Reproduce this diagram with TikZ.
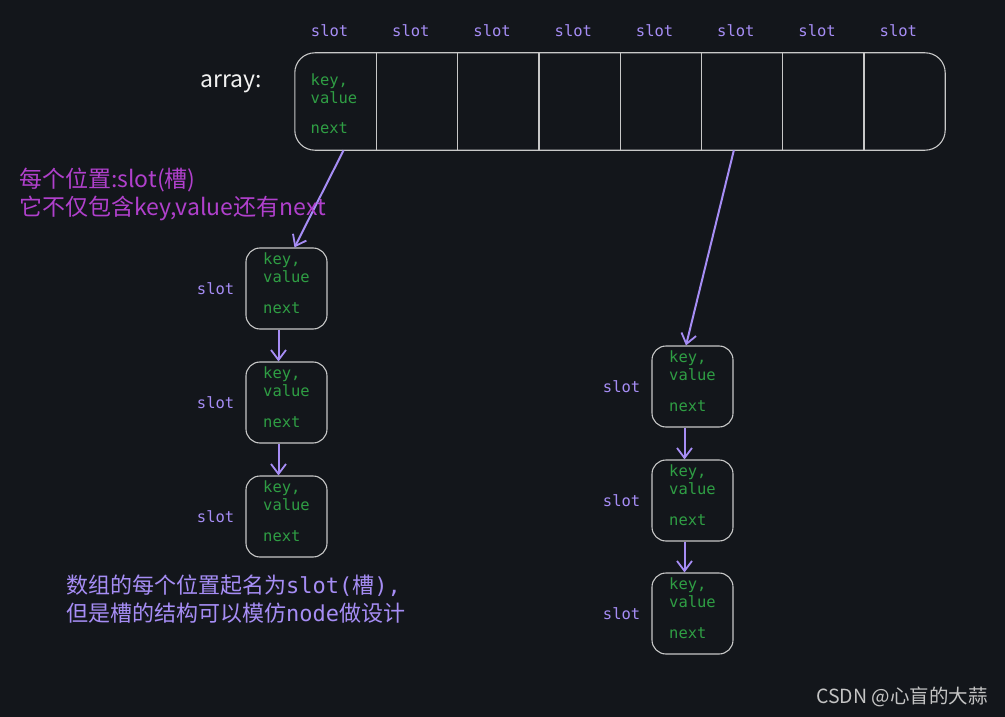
\documentclass[tikz,border=0pt]{standalone}
\usepackage{fontspec}
\setmainfont{DejaVu Sans}
\newfontfamily\cjk{Noto Sans CJK SC}
\newfontfamily\codefont{DejaVu Sans Mono}
\usetikzlibrary{arrows.meta,positioning}
\definecolor{bgdark}{HTML}{13161B}
\definecolor{slotpurple}{HTML}{A68DF5}
\definecolor{fieldgreen}{HTML}{2F9E44}
\definecolor{notemagenta}{HTML}{B040CC}
\definecolor{boxgray}{HTML}{C8C8C8}
\definecolor{markgray}{HTML}{C4C4C4}

\begin{document}
\begin{tikzpicture}[x=1pt,y=-1pt,
  slotlabel/.style={text=slotpurple,inner sep=0pt,font=\codefont\fontsize{15.5}{18}\selectfont},
  fields/.style={text=fieldgreen,align=left,inner sep=0pt,font=\codefont\fontsize{15.5}{18}\selectfont},
  cell/.style={minimum width=81.25pt,minimum height=97pt,inner sep=0pt},
  slotbox/.style={draw=boxgray,line width=1.1pt,rounded corners=14pt,minimum width=81pt,minimum height=81pt,inner sep=0pt},
  link/.style={draw=slotpurple,line width=2pt,-{Straight Barb[length=10pt,width=15pt,line width=1.8pt]}},
  note/.style={anchor=west,align=left,inner sep=0pt,font=\cjk\fontsize{22}{28}\selectfont}]
\fill[bgdark] (0,0) rectangle (1005,717);
\useasboundingbox (0,0) rectangle (1005,717);

% array of slots
\foreach \i in {1,...,8}{
  \node[cell] (c\i) at ({295+81.25*(\i-0.5)},101.5) {};
  \node[slotlabel] (s\i) at ({289+81.25*(\i-0.5)},31) {slot};
}
\draw[boxgray,line width=1.1pt,rounded corners=20pt] (c1.north west) rectangle (c8.south east);
\foreach \i in {1,...,7}
  \draw[boxgray,line width=1.1pt] (c\i.north east) -- (c\i.south east);
\node[fields] (k1) at (334,104) {key,\\value\\[12pt]next};
\node[text=white!90!gray,inner sep=0pt,font=\cjk\fontsize{23}{26}\selectfont] (arr) at (231,84) {array:};

% left chain
\node[slotbox,label={[fields,yshift=5pt]center:key,\\value\\[13pt]next}] (l1) at (286.5,288.5) {};
\node[slotbox,label={[fields,yshift=5pt]center:key,\\value\\[13pt]next}] (l2) at (286.5,402.5) {};
\node[slotbox,label={[fields,yshift=5pt]center:key,\\value\\[13pt]next}] (l3) at (286.5,516.5) {};
\node[slotlabel,left=11pt of l1] (ls1) {slot};
\node[slotlabel,left=11pt of l2] (ls2) {slot};
\node[slotlabel,left=11pt of l3] (ls3) {slot};

% right chain
\node[slotbox,label={[fields,yshift=5pt]center:key,\\value\\[13pt]next}] (r1) at (692.5,386.5) {};
\node[slotbox,label={[fields,yshift=5pt]center:key,\\value\\[13pt]next}] (r2) at (692.5,500.5) {};
\node[slotbox,label={[fields,yshift=5pt]center:key,\\value\\[13pt]next}] (r3) at (692.5,613.5) {};
\node[slotlabel,left=11pt of r1] (rs1) {slot};
\node[slotlabel,left=11pt of r2] (rs2) {slot};
\node[slotlabel,left=11pt of r3] (rs3) {slot};

% links
\draw[link] ([xshift=8]c1.south) -- ([xshift=8]l1.north);
\draw[link] ([xshift=-8]c6.south) -- ([xshift=-6.5]r1.north);
\draw[link] ([xshift=-8]l1.south) -- ([xshift=-8]l2.north);
\draw[link] ([xshift=-8]l2.south) -- ([xshift=-8]l3.north);
\draw[link] ([xshift=-8]r1.south) -- ([xshift=-8]r2.north);
\draw[link] ([xshift=-8]r2.south) -- ([xshift=-8]r3.north);

% notes
\node[note,text=notemagenta,font=\cjk\fontsize{23}{28}\selectfont] (note1) at (19,194) {每个位置:slot(槽)\\它不仅包含key,value还有next};
\node[note,text=slotpurple] (note2) at (66,599) {数组的每个位置起名为{\codefont slot(}槽{\codefont ),}\\但是槽的结构可以模仿{\codefont node}做设计};
\node[anchor=east,inner sep=0pt,text=markgray,font=\cjk\fontsize{19.5}{22}\selectfont] (mark) at (988,697) {CSDN @心盲的大蒜};
\end{tikzpicture}
\end{document}
